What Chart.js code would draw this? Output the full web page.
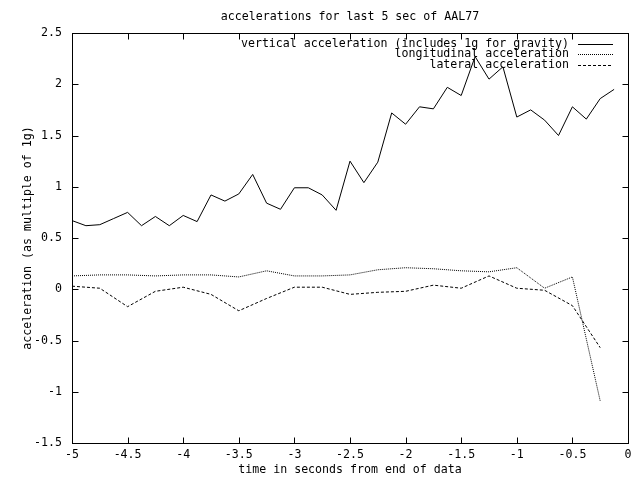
<!DOCTYPE html>
<html>
<head>
<meta charset="utf-8">
<script src="https://cdn.jsdelivr.net/npm/chart.js@4/dist/chart.umd.min.js"></script>
<style>
  html, body { margin: 0; padding: 0; background: #fff; }
  #wrap { width: 640px; height: 480px; }
</style>
</head>
<body>
<div id="wrap"><canvas id="c" width="640" height="480"></canvas></div>
<script>
const chartTitle = 'accelerations for last 5 sec of AAL77';
const xAxisTitle = 'time in seconds from end of data';
const yAxisTitle = 'acceleration (as multiple of 1g)';
const seriesLabels = [
  'vertical acceleration (includes 1g for gravity)',
  'longitudinal acceleration',
  'lateral acceleration'
];

// vertical acceleration sampled every 0.125 s
const verticalTimes = [
  -5, -4.875, -4.75, -4.625, -4.5, -4.375, -4.25, -4.125,
  -4, -3.875, -3.75, -3.625, -3.5, -3.375, -3.25, -3.125,
  -3, -2.875, -2.75, -2.625, -2.5, -2.375, -2.25, -2.125,
  -2, -1.875, -1.75, -1.625, -1.5, -1.375, -1.25, -1.125,
  -1, -0.875, -0.75, -0.625, -0.5, -0.375, -0.25, -0.125
];
const verticalAccel = [
  0.67, 0.62, 0.63, 0.69, 0.75, 0.62, 0.71, 0.62,
  0.72, 0.66, 0.92, 0.86, 0.93, 1.12, 0.84, 0.78,
  0.99, 0.99, 0.92, 0.77, 1.25, 1.04, 1.24, 1.72,
  1.61, 1.78, 1.76, 1.97, 1.89, 2.27, 2.05, 2.17,
  1.68, 1.75, 1.65, 1.50, 1.78, 1.66, 1.86, 1.95
];

// longitudinal and lateral sampled every 0.25 s
const sideTimes = [
  -5, -4.75, -4.5, -4.25, -4, -3.75, -3.5, -3.25, -3, -2.75,
  -2.5, -2.25, -2, -1.75, -1.5, -1.25, -1, -0.75, -0.5, -0.25
];
const longitudinalAccel = [
  0.13, 0.14, 0.14, 0.13, 0.14, 0.14, 0.12, 0.18, 0.13, 0.13,
  0.14, 0.19, 0.21, 0.20, 0.18, 0.17, 0.21, 0.01, 0.12, -1.09
];
const lateralAccel = [
  0.03, 0.01, -0.17, -0.02, 0.02, -0.05, -0.21, -0.09, 0.02, 0.02,
  -0.05, -0.03, -0.02, 0.04, 0.01, 0.13, 0.01, -0.01, -0.16, -0.57
];

const FONT = 'DejaVu Sans Mono';
const FSIZE = 11.6;

function pairs(xs, ys) { return xs.map((x, i) => ({ x: x, y: ys[i] })); }
function fmt(v) { return String(Math.round(v * 1000) / 1000); }

const frame = {
  id: 'gnuframe',
  afterDraw(chart) {
    const ctx = chart.ctx;
    const a = chart.chartArea;
    const xs = chart.scales.x, ys = chart.scales.y;
    const L = Math.round(a.left) + 0.5, R = Math.round(a.right) + 0.5;
    const T = Math.round(a.top) + 0.5, B = Math.round(a.bottom) + 0.5;
    ctx.save();
    ctx.strokeStyle = '#000';
    ctx.lineWidth = 1;
    ctx.setLineDash([]);
    ctx.strokeRect(L, T, R - L, B - T);
    const tl = 6;
    ctx.beginPath();
    xs.ticks.forEach(t => {
      const px = Math.round(xs.getPixelForValue(t.value)) + 0.5;
      ctx.moveTo(px, B); ctx.lineTo(px, B - tl);
      ctx.moveTo(px, T); ctx.lineTo(px, T + tl);
    });
    ys.ticks.forEach(t => {
      const py = Math.round(ys.getPixelForValue(t.value)) + 0.5;
      ctx.moveTo(L, py); ctx.lineTo(L + tl, py);
      ctx.moveTo(R, py); ctx.lineTo(R - tl, py);
    });
    ctx.stroke();

    // legend (gnuplot style, top right, text right-aligned)
    ctx.font = FSIZE + 'px "' + FONT + '"';
    ctx.fillStyle = '#000';
    ctx.textAlign = 'right';
    ctx.textBaseline = 'middle';
    chart.data.datasets.forEach((ds, i) => {
      const y = 43.5 + i * 10.5;
      ctx.fillText(ds.label, 569, y);
      ctx.beginPath();
      ctx.setLineDash(ds.borderDash || []);
      const ly = Math.round(y) + 0.5;
      ctx.moveTo(578, ly); ctx.lineTo(613, ly);
      ctx.stroke();
    });
    ctx.restore();
  }
};

new Chart(document.getElementById('c'), {
  type: 'line',
  data: {
    datasets: [
      { label: seriesLabels[0], data: pairs(verticalTimes, verticalAccel),
        borderColor: '#000', borderWidth: 1, pointRadius: 0, tension: 0, borderDash: [] },
      { label: seriesLabels[1], data: pairs(sideTimes, longitudinalAccel),
        borderColor: '#000', borderWidth: 1, pointRadius: 0, tension: 0, borderDash: [1, 1] },
      { label: seriesLabels[2], data: pairs(sideTimes, lateralAccel),
        borderColor: '#000', borderWidth: 1, pointRadius: 0, tension: 0, borderDash: [3, 2] }
    ]
  },
  options: {
    responsive: false,
    animation: false,
    devicePixelRatio: 1,
    layout: { padding: { top: 0, right: 12, bottom: 0, left: 0 } },
    plugins: {
      legend: { display: false },
      tooltip: { enabled: false },
      title: {
        display: true, text: chartTitle, color: '#000', fullSize: false,
        font: { family: FONT, size: FSIZE, weight: 'normal', lineHeight: 1.2 },
        padding: { top: 10.5, bottom: 8.58 }
      }
    },
    scales: {
      x: {
        type: 'linear', min: -5, max: 0,
        grid: { display: false, drawTicks: false },
        border: { display: false },
        ticks: { stepSize: 0.5, color: '#000', padding: 5, maxRotation: 0,
                 callback: fmt,
                 font: { family: FONT, size: FSIZE, lineHeight: 1.2 } },
        title: { display: true, text: xAxisTitle, color: '#000',
                 font: { family: FONT, size: FSIZE, lineHeight: 1.2 },
                 padding: { top: 0, bottom: 3 } },
        afterFit(s) { s.height = 37; }
      },
      y: {
        type: 'linear', min: -1.5, max: 2.5,
        grid: { display: false, drawTicks: false },
        border: { display: false },
        ticks: { stepSize: 0.5, color: '#000', padding: 10,
                 callback: fmt,
                 font: { family: FONT, size: FSIZE, lineHeight: 1.2 } },
        title: { display: true, text: yAxisTitle, color: '#000',
                 font: { family: FONT, size: FSIZE, lineHeight: 1.2 },
                 padding: { top: 21, bottom: 0 } },
        afterFit(s) { s.width = 72; }
      }
    }
  },
  plugins: [frame]
});
</script>
</body>
</html>
